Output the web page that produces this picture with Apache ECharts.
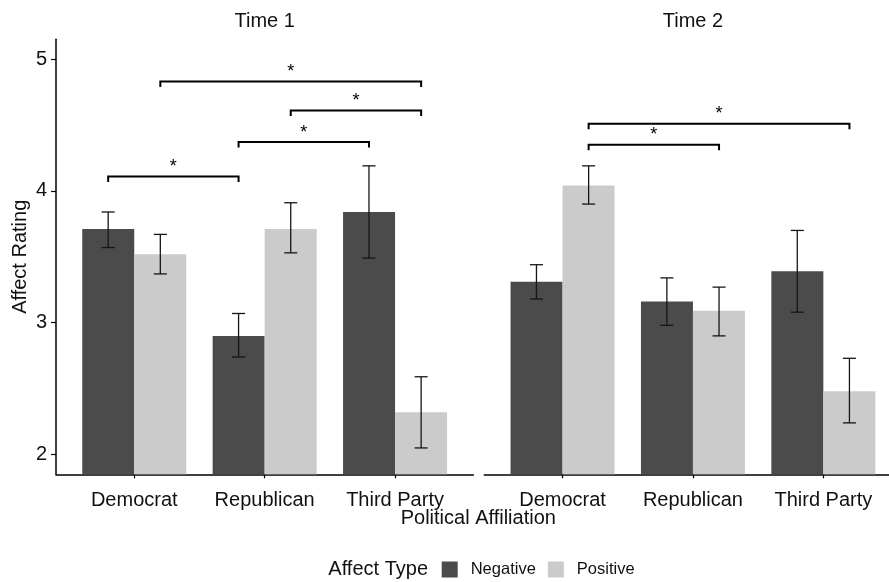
<!DOCTYPE html>
<html>
<head>
<meta charset="utf-8">
<script src="https://cdn.jsdelivr.net/npm/echarts@6/dist/echarts.min.js"></script>
<style>
html,body{margin:0;padding:0;background:#fff;}
#chart{width:889px;height:582px;}
</style>
</head>
<body>
<div id="chart"></div>
<script>
// ---- data ----
const categories = ['Democrat', 'Republican', 'Third Party'];
const panelTitles = ['Time 1', 'Time 2'];
const affectTypes = ['Negative', 'Positive'];
const yTicks = [2, 3, 4, 5];

const t1Negative = [3.71, 2.90, 3.84];
const t1Positive = [3.52, 3.71, 2.32];
const t2Negative = [3.31, 3.16, 3.39];
const t2Positive = [4.04, 3.09, 2.48];

const t1NegLow = [3.57, 2.74, 3.49];
const t1NegHigh = [3.84, 3.07, 4.19];
const t1PosLow = [3.37, 3.53, 2.05];
const t1PosHigh = [3.67, 3.91, 2.59];
const t2NegLow = [3.18, 2.98, 3.08];
const t2NegHigh = [3.44, 3.34, 3.70];
const t2PosLow = [3.90, 2.90, 2.24];
const t2PosHigh = [4.19, 3.27, 2.73];

// significance brackets: [fromCategory, fromType, toCategory, toType, y]
const t1Brackets = [[0, 0, 1, 0, 4.11], [1, 0, 2, 0, 4.37], [1, 1, 2, 1, 4.61], [0, 1, 2, 1, 4.83]];
const t2Brackets = [[0, 1, 1, 1, 4.35], [0, 1, 2, 1, 4.51]];
const sigLabel = '*';

// ---- layout / style ----
const FONT = '"Liberation Sans", Arial, Helvetica, sans-serif';
const TXT = '#111';
const colors = ['#4b4b4b', '#cbcbcb'];
const dodge = [-0.2, 0.2];
const Y_MIN = 1.85, Y_MAX = 5.15;
const X_MIN = 0.4, X_MAX = 3.6;
const PANEL_W = 417.3;
const PX_PER_UNIT = PANEL_W / (X_MAX - X_MIN);
const RIGHT_LEFT = 484.3;
const RIGHT_W = 889 - RIGHT_LEFT;               // right panel is cut by the image edge
const RIGHT_XMAX = X_MIN + RIGHT_W / PX_PER_UNIT;

const chart = echarts.init(document.getElementById('chart'), null, {renderer: 'canvas'});

const panelValues = [[t1Negative, t1Positive], [t2Negative, t2Positive]];
const panelLow = [[t1NegLow, t1PosLow], [t2NegLow, t2PosLow]];
const panelHigh = [[t1NegHigh, t1PosHigh], [t2NegHigh, t2PosHigh]];
const panelBrackets = [t1Brackets, t2Brackets];

const grids = [
  {left: 56, top: 39.3, width: PANEL_W, height: 435},
  {left: RIGHT_LEFT, top: 39.3, width: RIGHT_W, height: 435}
];
const xMaxes = [X_MAX, RIGHT_XMAX];

const xAxes = grids.map((g, i) => ({
  type: 'value', gridIndex: i, min: X_MIN, max: xMaxes[i],
  axisLine: {show: true, onZero: false, lineStyle: {color: '#000', width: 1.5}},
  axisTick: {show: true, length: 4, customValues: [1, 2, 3], lineStyle: {color: '#000', width: 1.2}},
  axisLabel: {
    customValues: [1, 2, 3],
    formatter: v => categories[Math.round(v) - 1] || '',
    fontFamily: FONT, fontSize: 20, color: TXT, margin: 26, verticalAlign: 'middle'
  },
  splitLine: {show: false}
}));

const yAxes = grids.map((g, i) => ({
  type: 'value', gridIndex: i, min: Y_MIN, max: Y_MAX,
  show: i === 0,
  axisLine: {show: true, onZero: false, lineStyle: {color: '#000', width: 1.5}},
  axisTick: {show: true, length: 5, customValues: yTicks, lineStyle: {color: '#000', width: 1.2}},
  axisLabel: {customValues: yTicks, fontFamily: FONT, fontSize: 20, color: TXT, margin: 9},
  splitLine: {show: false}
}));

const series = [];
for (let p = 0; p < 2; p++) {
  for (let t = 0; t < 2; t++) {
    series.push({
      type: 'bar', name: affectTypes[t], xAxisIndex: p, yAxisIndex: p,
      barWidth: 52, barGap: '0%',
      itemStyle: {color: colors[t]},
      data: panelValues[p][t].map((v, c) => [c + 1, v]),
      z: 2, animation: false
    });
  }
}
for (let p = 0; p < 2; p++) {
  const ebData = [];
  for (let t = 0; t < 2; t++) {
    for (let c = 0; c < 3; c++) ebData.push([c + 1 + dodge[t], panelLow[p][t][c], panelHigh[p][t][c]]);
  }
  series.push({
    type: 'custom', xAxisIndex: p, yAxisIndex: p, z: 5, animation: false,
    encode: {x: 0, y: [1, 2]},
    data: ebData,
    renderItem: (params, api) => {
      const x = api.value(0);
      const lo = api.coord([x, api.value(1)]);
      const hi = api.coord([x, api.value(2)]);
      const hw = api.size([0.1, 0])[0] / 2;
      const st = {stroke: '#151515', lineWidth: 1.3};
      return {type: 'group', children: [
        {type: 'line', shape: {x1: lo[0], y1: lo[1], x2: hi[0], y2: hi[1]}, style: st},
        {type: 'line', shape: {x1: lo[0] - hw, y1: lo[1], x2: lo[0] + hw, y2: lo[1]}, style: st},
        {type: 'line', shape: {x1: hi[0] - hw, y1: hi[1], x2: hi[0] + hw, y2: hi[1]}, style: st}
      ]};
    }
  });
  series.push({
    type: 'custom', xAxisIndex: p, yAxisIndex: p, z: 6, animation: false,
    encode: {x: [0, 1], y: 2},
    data: panelBrackets[p].map(b => [b[0] + 1 + dodge[b[1]], b[2] + 1 + dodge[b[3]], b[4]]),
    renderItem: (params, api) => {
      const a = api.coord([api.value(0), api.value(2)]);
      const b = api.coord([api.value(1), api.value(2)]);
      return {type: 'group', children: [
        {type: 'polyline', shape: {points: [[a[0], a[1] + 5.5], [a[0], a[1]], [b[0], b[1]], [b[0], b[1] + 5.5]]},
         style: {stroke: '#000', lineWidth: 2, fill: null}},
        {type: 'text', x: (a[0] + b[0]) / 2, y: a[1] - 9.5,
         style: {text: sigLabel, fontFamily: FONT, fontSize: 18, fill: '#000', textAlign: 'center', textVerticalAlign: 'middle'}}
      ]};
    }
  });
}

const option = {
  backgroundColor: '#fff',
  animation: false,
  grid: grids,
  xAxis: xAxes,
  yAxis: yAxes,
  legend: {
    data: affectTypes,
    left: 441.7, top: 561,
    orient: 'horizontal',
    padding: 0,
    itemWidth: 16, itemHeight: 16, itemGap: 12,
    icon: 'rect',
    selectedMode: false,
    textStyle: {fontFamily: FONT, fontSize: 16.5, color: TXT, padding: [0, 0, 0, 8]}
  },
  graphic: [
    {type: 'text', x: 264.7, y: 21.2, style: {text: panelTitles[0], fontFamily: FONT, fontSize: 20, fill: TXT, textAlign: 'center', textVerticalAlign: 'middle'}},
    {type: 'text', x: 692.9, y: 21.2, style: {text: panelTitles[1], fontFamily: FONT, fontSize: 20, fill: TXT, textAlign: 'center', textVerticalAlign: 'middle'}},
    {type: 'text', x: 478.3, y: 518, style: {text: 'Political Affiliation', fontFamily: FONT, fontSize: 20, fill: TXT, textAlign: 'center', textVerticalAlign: 'middle'}},
    {type: 'text', x: 20, y: 256.8, rotation: Math.PI / 2, style: {text: 'Affect Rating', fontFamily: FONT, fontSize: 20, fill: TXT, textAlign: 'center', textVerticalAlign: 'middle'}},
    {type: 'text', x: 428, y: 569, style: {text: 'Affect Type', fontFamily: FONT, fontSize: 20, fill: TXT, textAlign: 'right', textVerticalAlign: 'middle'}}
  ],
  series: series
};
chart.setOption(option);
</script>
</body>
</html>
